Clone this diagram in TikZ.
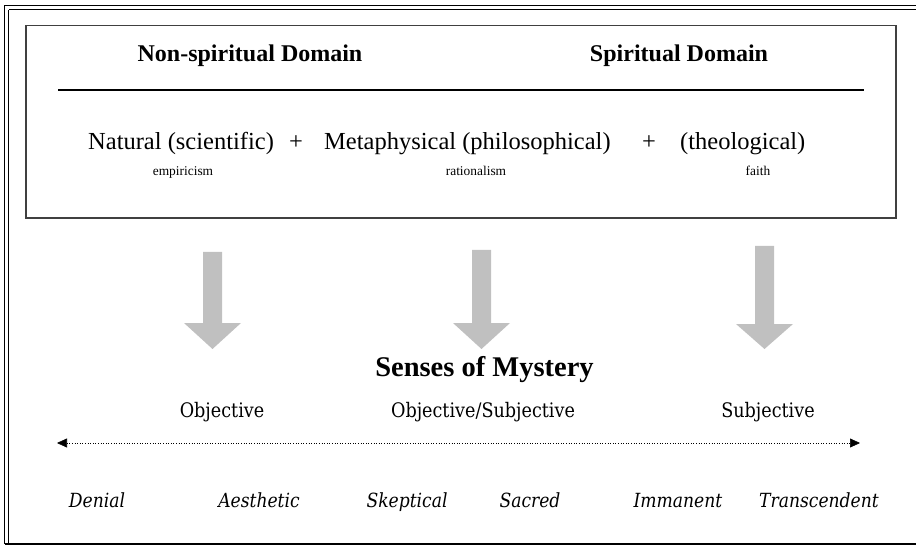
\documentclass[tikz,border=0pt]{standalone}
\usepackage{fontspec}
\setmainfont{Liberation Serif}
\newfontfamily\camb[FakeStretch=0.88]{DejaVu Serif}
\usetikzlibrary{arrows.meta}
\definecolor{arrowgray}{HTML}{C0C0C0}
\tikzset{
  headtxt/.style={font=\bfseries\fontsize{24}{28}\selectfont, inner sep=0pt, anchor=base},
  domtxt/.style={font=\fontsize{24.5}{28}\selectfont, inner sep=0pt},
  subtxt/.style={font=\fontsize{13.4}{15}\selectfont, inner sep=0pt, anchor=base},
  sensetxt/.style={font=\camb\fontsize{20}{22}\selectfont, inner sep=0pt, anchor=base},
  kindtxt/.style={font=\camb\itshape\fontsize{19.5}{22}\selectfont, inner sep=0pt, anchor=base},
  bigarrow/.style={fill=arrowgray, draw=none},
}
\begin{document}
\begin{tikzpicture}[x=1pt,y=-1pt]
\useasboundingbox (0,0) rectangle (916,548);
% outer double frame
\draw[line width=1.8pt] (4.5,5.5) -- (930,5.5);
\draw[line width=1.8pt] (4.5,5.5) -- (4.5,544);
\draw[line width=1pt] (8.5,10) -- (930,10);
\draw[line width=1pt] (8.5,10) -- (8.5,543);
\draw[line width=2pt] (4.5,543.5) -- (930,543.5);
% inner box
\draw[line width=1.3pt, draw=black!75] (26,25.5) rectangle (896,218);
\draw[line width=1.4pt] (58,90) -- (864,90);
% headings
\node[headtxt] (ns) at (250,62) {Non-spiritual Domain};
\node[headtxt] (sp) at (679,62) {Spiritual Domain};
% domains
\node[domtxt, anchor=base west] (nat) at (88,150) {Natural (scientific)};
\node[domtxt, anchor=base] (p1) at (296,150) {+};
\node[domtxt, anchor=base west] (met) at (324,150) {Metaphysical (philosophical)};
\node[domtxt, anchor=base] (p2) at (649,150) {+};
\node[domtxt, anchor=base west] (the) at (680,150) {(theological)};
\node[subtxt] (emp) at (183,176) {empiricism};
\node[subtxt] (rat) at (476,176) {rationalism};
\node[subtxt] (fai) at (758,176) {faith};
% big gray arrows
\fill[bigarrow] (203,252) -- (222,252) -- (222,323) -- (241,323) -- (212.5,349) -- (184,323) -- (203,323) -- cycle;
\fill[bigarrow] (472,250) -- (491,250) -- (491,323) -- (510,323) -- (481.5,349) -- (453,323) -- (472,323) -- cycle;
\fill[bigarrow] (755,246) -- (774,246) -- (774,324) -- (793,324) -- (764.5,349) -- (736,324) -- (755,324) -- cycle;
% senses
\node[font=\bfseries\fontsize{28.5}{32}\selectfont, inner sep=0pt, anchor=base] (som) at (484.5,376) {Senses of Mystery};
\node[sensetxt] (obj) at (222,417) {Objective};
\node[sensetxt] (os) at (483,417) {Objective/Subjective};
\node[sensetxt] (sub) at (768,417) {Subjective};
\coordinate (l) at (57,443);
\coordinate (r) at (860,443);
\draw[dotted, line width=0.6pt, {Triangle[length=10pt,width=9pt]}-{Triangle[length=10pt,width=9pt]}] (l) -- (r);
% kinds
\node[kindtxt] (den) at (97,507) {Denial};
\node[kindtxt] (aes) at (259,507) {Aesthetic};
\node[kindtxt] (ske) at (407,507) {Skeptical};
\node[kindtxt] (sac) at (530,507) {Sacred};
\node[kindtxt] (imm) at (678,507) {Immanent};
\node[kindtxt] (tra) at (819,507) {Transcendent};
\end{tikzpicture}
\end{document}
